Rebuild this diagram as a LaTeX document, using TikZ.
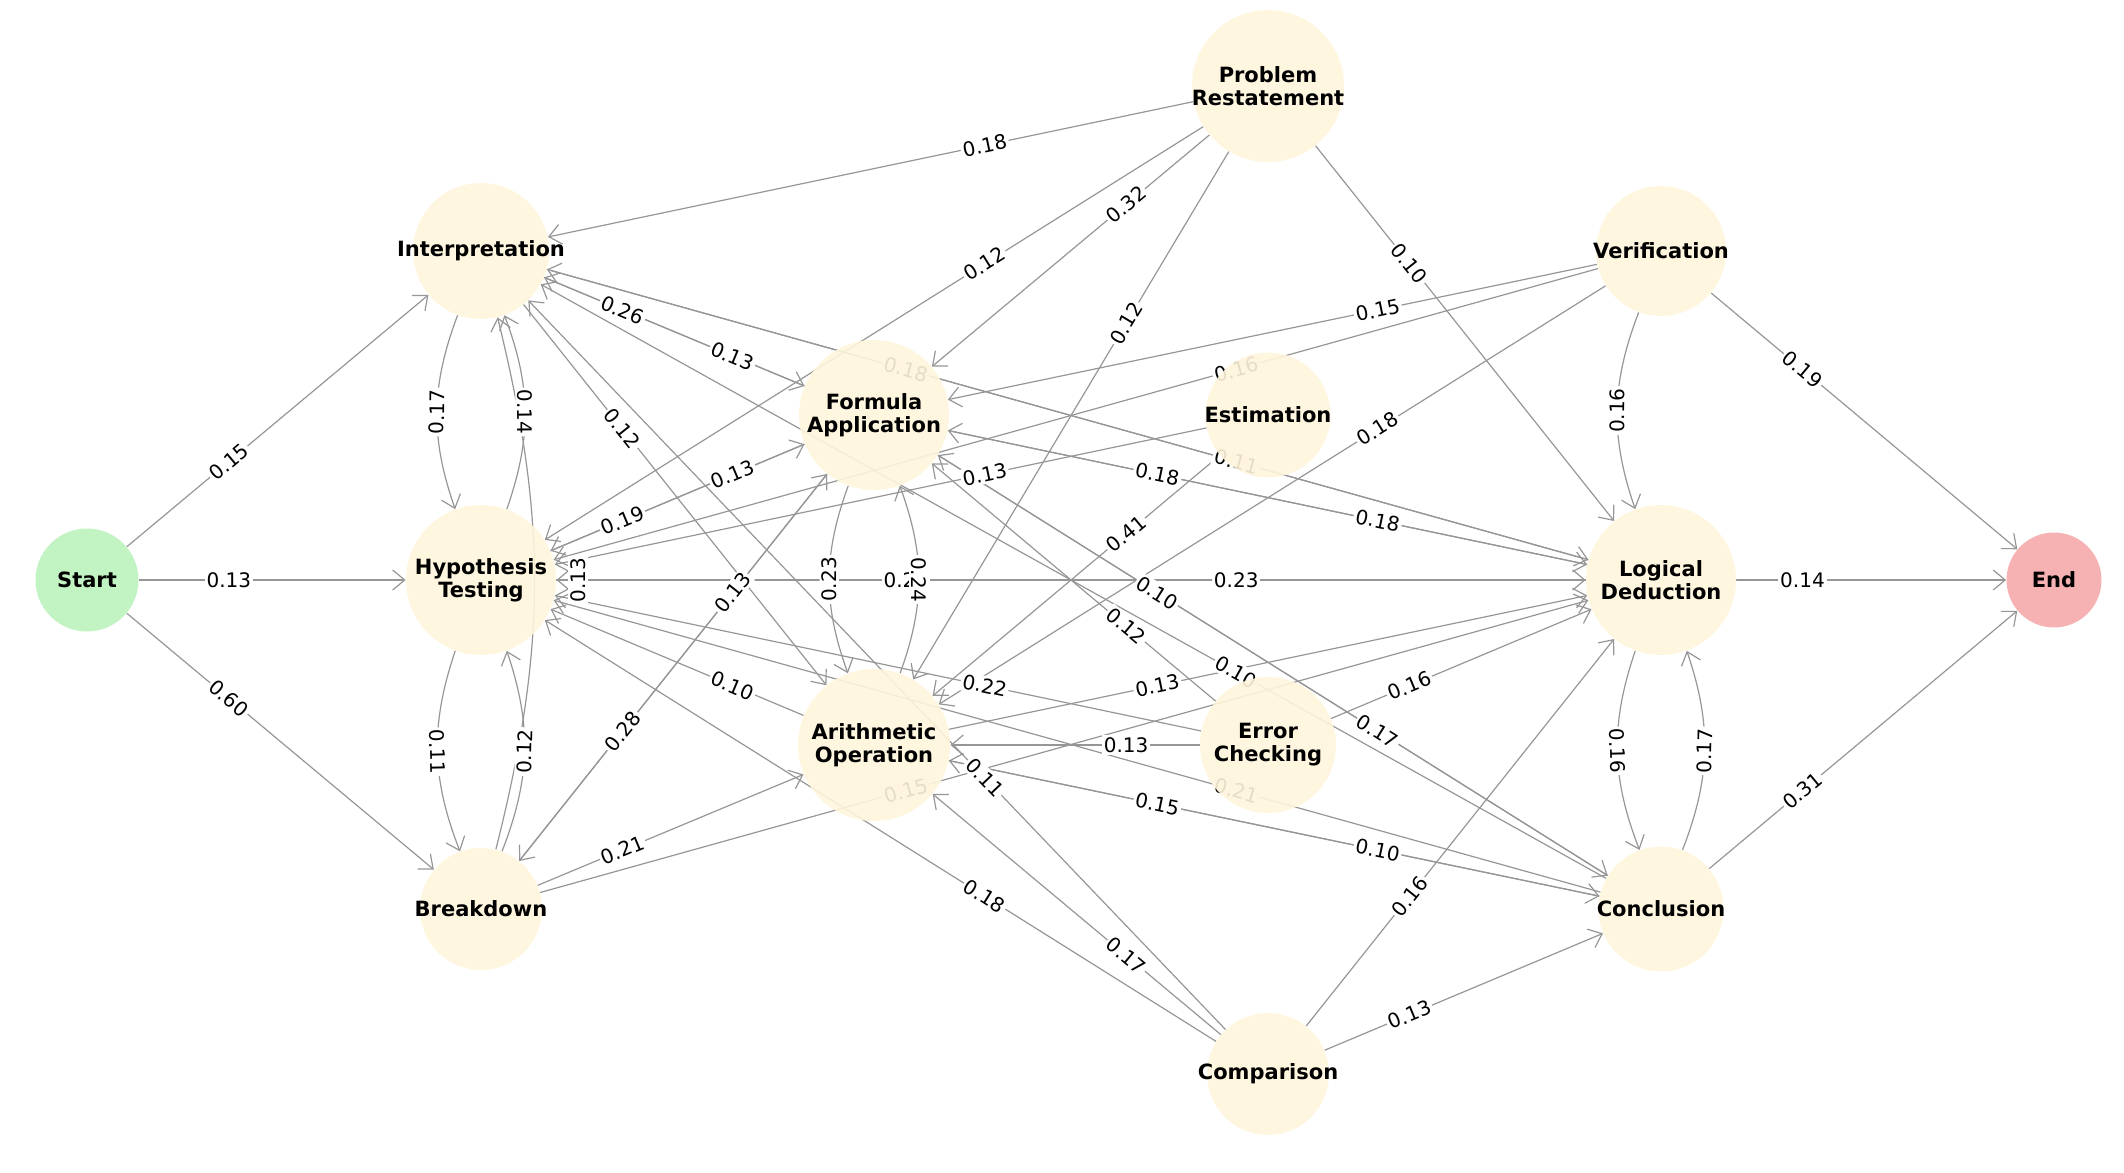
\documentclass[tikz,border=0pt]{standalone}
\usepackage{fontspec}
\setmainfont{DejaVu Sans}
\usetikzlibrary{arrows.meta}
\definecolor{nodefill}{RGB}{255,245,220}
\definecolor{startfill}{RGB}{187,242,187}
\definecolor{endfill}{RGB}{245,170,170}
\definecolor{edgegray}{RGB}{150,150,150}
\pgfdeclarelayer{labl}
\pgfdeclarelayer{fg}
\pgfsetlayers{main,labl,fg}
\tikzset{
  state/.style={circle, fill=#1, fill opacity=0.9, inner sep=0pt},
  statetext/.style={align=center, inner sep=0pt, font=\fontsize{10.5}{11.5}\selectfont\bfseries},
  edge/.style={draw=edgegray, line width=0.6pt, -{Straight Barb[length=6pt,width=10pt]}},
  lab/.style={fill=white, inner sep=1pt, sloped, font=\fontsize{10}{11}\selectfont}
}
\begin{document}
\begin{tikzpicture}[x=0.5pt, y=-0.5pt]
\useasboundingbox (0,0) rectangle (2124,1172);
% states
\begin{pgfonlayer}{fg}
\foreach \n/\x/\y/\d/\t/\c in
  {start/87/580/103/Start/startfill, end/2054/580/95/End/endfill,
   interp/481/251/136/Interpretation/nodefill, hyp/481/580/150/{Hypothesis\\Testing}/nodefill,
   brk/481/909/122/Breakdown/nodefill, form/874/415/150/{Formula\\Application}/nodefill,
   arith/874/745/152/{Arithmetic\\Operation}/nodefill, prob/1268/86/152/{Problem\\Restatement}/nodefill,
   est/1268/415/125/Estimation/nodefill, err/1268/745/136/{Error\\Checking}/nodefill,
   comp/1268/1074/122/Comparison/nodefill, verif/1661/251/130/Verification/nodefill,
   logic/1661/580/150/{Logical\\Deduction}/nodefill, concl/1661/909/125/Conclusion/nodefill}{
  \node[state=\c, minimum size=\d*0.5pt] (\n) at (\x,\y) {};
  \node[statetext] at (\n) {\t};
}
\end{pgfonlayer}
% straight transitions
\foreach \a/\b/\w in
  {start/interp/0.15, start/hyp/0.13, start/brk/0.60, prob/interp/0.18, prob/hyp/0.12,
   prob/form/0.32, prob/arith/0.12, prob/logic/0.10, interp/form/0.26, form/interp/0.13,
   interp/arith/0.12, interp/logic/0.18, logic/interp/0.11, verif/form/0.15, verif/hyp/0.16,
   verif/arith/0.18, verif/end/0.19, form/hyp/0.13, hyp/form/0.19, est/hyp/0.13,
   form/logic/0.18, logic/form/0.18, est/arith/0.41, form/brk/0.13, brk/form/0.28,
   hyp/logic/0.25, logic/hyp/0.23, logic/end/0.14, arith/hyp/0.10, arith/logic/0.13,
   err/hyp/0.22, form/concl/0.10, err/form/0.12, concl/interp/0.10, err/logic/0.16,
   concl/form/0.17, err/arith/0.13, concl/hyp/0.21, comp/interp/0.11, arith/concl/0.15,
   concl/arith/0.10, brk/logic/0.15, brk/arith/0.21, comp/hyp/0.18, comp/arith/0.17,
   comp/logic/0.16, comp/concl/0.13, concl/end/0.31}{
  \draw[edge] (\a) -- (\b);
  \begin{pgfonlayer}{labl}
  \path (\a.center) -- node[lab, pos=0.36] {\w} (\b.center);
  \end{pgfonlayer}
}
% curved transitions
\foreach \a/\b/\w/\r in
  {interp/hyp/0.17/20, hyp/interp/0.14/20, hyp/brk/0.11/20, brk/hyp/0.12/20,
   form/arith/0.23/20, arith/form/0.24/20, verif/logic/0.16/20,
   logic/concl/0.16/20, concl/logic/0.17/20}{
  \draw[edge] (\a) to[bend right=\r] (\b);
  \begin{pgfonlayer}{labl}
  \path (\a) to[bend right=\r] node[lab, pos=0.5] {\w} (\b);
  \end{pgfonlayer}
}
% long arc past the hypothesis node, label kept on top
\draw[edge] (brk) to[bend right=14] (interp);
\begin{pgfonlayer}{fg}
\node[lab, rotate=90] (brklab) at (578,580) {0.13};
\end{pgfonlayer}
\end{tikzpicture}
\end{document}
